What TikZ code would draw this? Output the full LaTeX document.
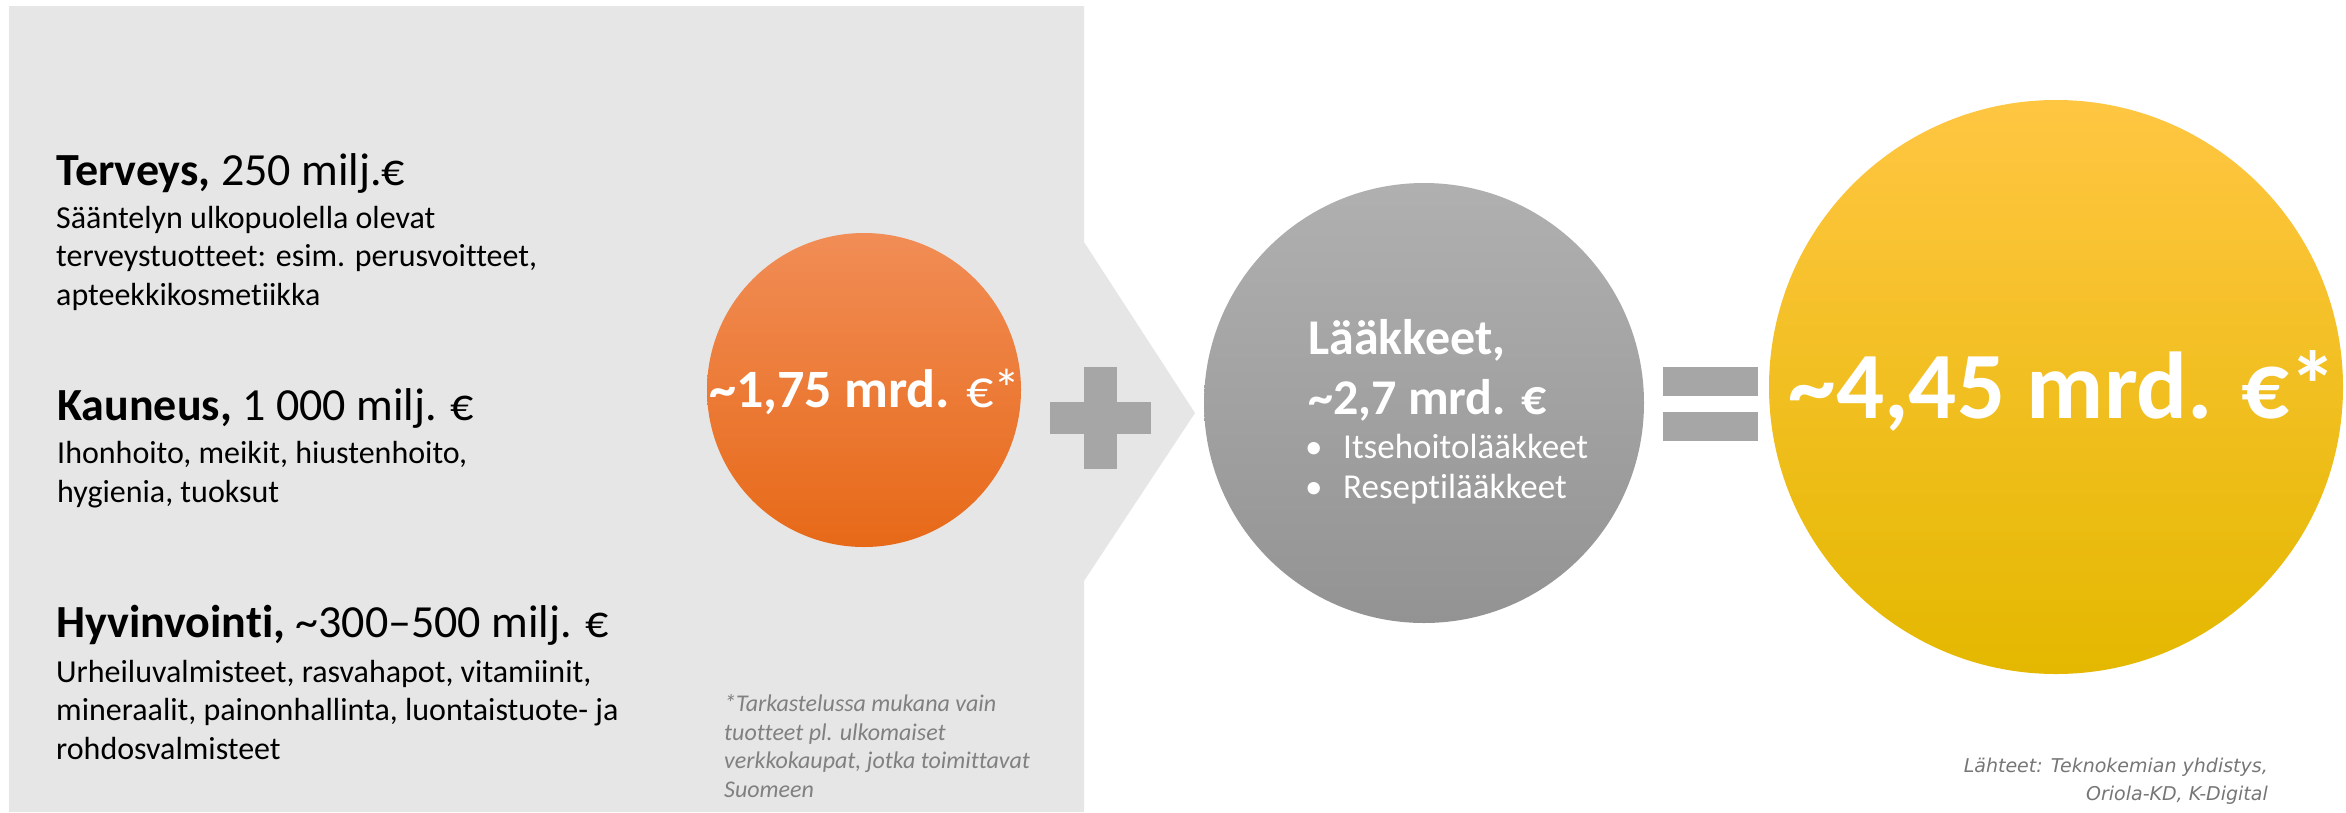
\documentclass[tikz,border=0pt]{standalone}
\usepackage{fontspec}
\setmainfont{Carlito}[Ligatures=CommonOff]
\newfontfamily\sourcefont{DejaVu Sans}
\definecolor{panelgray}{RGB}{230,230,230}
\definecolor{signgray}{RGB}{166,166,166}
\definecolor{notegray}{RGB}{128,128,128}
\definecolor{sourcegray}{RGB}{118,118,118}
\definecolor{orangetop}{RGB}{241,141,86}
\definecolor{orangebot}{RGB}{231,105,24}
\definecolor{greytop}{RGB}{176,176,176}
\definecolor{greybot}{RGB}{147,147,147}
\definecolor{yellowtop}{RGB}{255,198,66}
\definecolor{yellowmid}{RGB}{250,196,10}
\definecolor{yellowbot}{RGB}{228,184,0}
\begin{document}
\begin{tikzpicture}[
        x=1pt, y=-1pt,
        heading/.style={anchor=base west, inner sep=0pt, font=\fontsize{46}{55}\selectfont},
        body/.style={anchor=base west, inner sep=0pt, align=left, font=\fontsize{32}{38.3}\selectfont},
        bubble/.style={circle, inner sep=0pt, draw=none},
        value/.style={anchor=base, inner sep=0pt, text=white, font=\bfseries},
        note/.style={inner sep=0pt, text=notegray, font=\fontsize{24}{28.5}\selectfont\itshape},
        sign/.style={fill=signgray}
    ]
        \useasboundingbox (0,0) rectangle (2346,812);

        % Panel with arrow tip
        \fill[panelgray] (9,6) -- (1084,6) -- (1084,242) -- (1195,413) -- (1084,581) -- (1084,812) -- (9,812) -- cycle;

        % Segments (multi-line nodes sit on their last line)
        \node[heading] (terveys) at (56,185) {\textbf{Terveys,} 250 milj.€};
        \node[body] (terveysText) at (56,305) {Sääntelyn ulkopuolella olevat\\terveystuotteet: esim. perusvoitteet,\\apteekkikosmetiikka};
        \node[heading] (kauneus) at (57,420) {\textbf{Kauneus,} 1 000 milj. €};
        \node[body] (kauneusText) at (57,502) {Ihonhoito, meikit, hiustenhoito,\\hygienia, tuoksut};
        \node[heading] (hyvinvointi) at (56,637) {\textbf{Hyvinvointi,} \textasciitilde300–500 milj. €};
        \node[body] (hyvinvointiText) at (56,759) {Urheiluvalmisteet, rasvahapot, vitamiinit,\\mineraalit, painonhallinta, luontaistuote- ja\\rohdosvalmisteet};

        % Footnote
        \node[note, anchor=base west, align=left] (footnote) at (724,797) {*Tarkastelussa mukana vain\\tuotteet pl. ulkomaiset\\verkkokaupat, jotka toimittavat\\Suomeen};

        % Circles
        \node[bubble, top color=orangetop, bottom color=orangebot, minimum size=314pt] (kosmetiikka) at (864,390) {};
        \node[value, font=\fontsize{54}{60}\selectfont] (kosmetiikkaValue) at (865,407) {\textbf{\textasciitilde1,75 mrd.} €*};

        \node[bubble, top color=greytop, bottom color=greybot, minimum size=440pt] (laakkeet) at (1424,403) {};
        \node[value, anchor=base west, align=left, font=\fontsize{50}{60}\selectfont\bfseries] (laakkeetValue) at (1308,414) {Lääkkeet,\\\textasciitilde2,7 mrd. €};
        \node[anchor=base west, inner sep=0pt, align=left, text=white, font=\fontsize{35}{40}\selectfont] (laakkeetList) at (1305,498) {\makebox[38pt][l]{•}Itsehoitolääkkeet\\\makebox[38pt][l]{•}Reseptilääkkeet};

        \node[bubble, top color=yellowtop, middle color=yellowmid, bottom color=yellowbot, minimum size=574pt] (total) at (2056,387) {};
        \node[value, font=\fontsize{95}{100}\selectfont\bfseries] (totalValue) at (2063,418) {\textasciitilde4,45 mrd. €*};

        % Plus and equals
        \fill[sign] (1050,402) rectangle (1151,434);
        \fill[sign] (1084,367) rectangle (1117,469);
        \fill[sign] (1663,367) rectangle (1758,396);
        \fill[sign] (1663,412) rectangle (1758,441);

        % Sources
        \node[note, anchor=base east, align=right, text=sourcegray, font=\fontsize{19}{28}\sourcefont\itshape] (sources) at (2268,800) {Lähteet: Teknokemian yhdistys,\\Oriola-KD, K-Digital};
    \end{tikzpicture}
\end{document}
